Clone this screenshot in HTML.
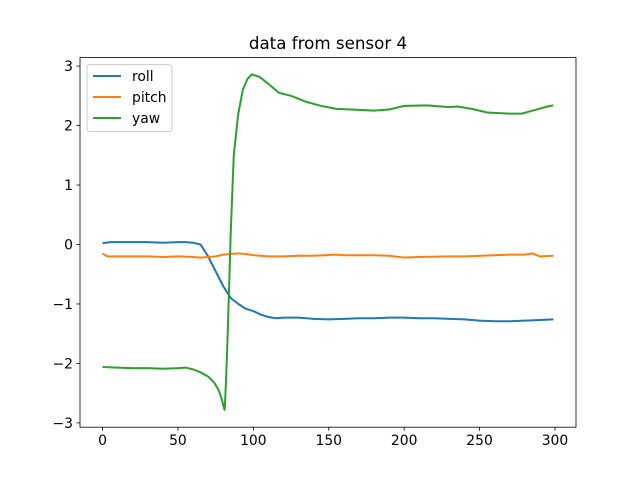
<!DOCTYPE html>
<html><head><meta charset="utf-8"><style>
body{margin:0;background:#fff}
svg text{font-family:"DejaVu Sans","Liberation Sans",sans-serif;fill:#000}
</style></head><body>
<svg id="chart" width="640" height="480" xmlns="http://www.w3.org/2000/svg">
<rect width="640" height="480" fill="#fff"/>
<text x="328" y="49" font-size="16.7" text-anchor="middle">data from sensor 4</text>
<g id="plot"></g>
<rect x="80" y="57.6" width="496" height="369.6" fill="none" stroke="#000" stroke-width="0.8"/>
<g id="ticks"></g>
<g>
<rect x="87" y="64.6" width="85" height="67" rx="3" fill="#fff" fill-opacity="0.8" stroke="#ccc"/>
<g><line x1="93" y1="76" x2="121" y2="76" stroke="#1f77b4" stroke-width="2"/><text x="132" y="81" font-size="13.9">roll</text></g>
<g><line x1="93" y1="97" x2="121" y2="97" stroke="#ff7f0e" stroke-width="2"/><text x="132" y="102" font-size="13.9">pitch</text></g>
<g><line x1="93" y1="118" x2="121" y2="118" stroke="#2ca02c" stroke-width="2"/><text x="132" y="123" font-size="13.9">yaw</text></g>
</g>
</svg>
<script>
const xTicks=[0,50,100,150,200,250,300];
const yTicks=[-3,-2,-1,0,1,2,3];
const rollX=[0,5,10,20,30,40,50,55,60,65,70,75,80,85,90,95,100,105,110,115,120,130,140,150,160,170,180,190,200,210,220,230,240,250,260,270,280,290,299];
const rollY=[0.02,0.04,0.04,0.04,0.04,0.03,0.04,0.04,0.03,0.0,-0.2,-0.45,-0.7,-0.9,-1.0,-1.08,-1.12,-1.18,-1.22,-1.24,-1.23,-1.23,-1.25,-1.26,-1.25,-1.24,-1.24,-1.23,-1.23,-1.24,-1.24,-1.25,-1.26,-1.28,-1.29,-1.29,-1.28,-1.27,-1.26];
const pitchX=[0,3,10,20,30,40,50,60,65,70,75,80,85,90,95,100,110,120,130,140,155,160,180,190,200,210,230,240,260,270,280,285,290,299];
const pitchY=[-0.15,-0.2,-0.2,-0.2,-0.2,-0.21,-0.2,-0.21,-0.22,-0.21,-0.2,-0.17,-0.16,-0.15,-0.16,-0.18,-0.2,-0.2,-0.19,-0.19,-0.17,-0.18,-0.18,-0.19,-0.22,-0.21,-0.2,-0.2,-0.18,-0.17,-0.17,-0.15,-0.2,-0.19];
const yawX=[0,10,20,30,40,50,55,60,65,70,74,77,79,81,82,83,85,87,90,93,96,99,104,110,117,125,135,145,155,165,180,190,200,215,230,235,245,255,270,278,285,295,299];
const yawY=[-2.06,-2.07,-2.08,-2.08,-2.09,-2.08,-2.07,-2.1,-2.15,-2.22,-2.32,-2.45,-2.6,-2.79,-2.2,-1.5,0.2,1.5,2.2,2.6,2.78,2.86,2.82,2.7,2.55,2.5,2.4,2.33,2.28,2.27,2.25,2.27,2.33,2.34,2.31,2.32,2.28,2.22,2.2,2.2,2.25,2.32,2.34];
const xMin=-14.95,xMax=313.95,yMin=-3.0725,yMax=3.1425;
const L=80,R=576,T=57.6,B=427.2;
function sx(v){return L+(v-xMin)/(xMax-xMin)*(R-L);}
function sy(v){return B-(v-yMin)/(yMax-yMin)*(B-T);}
const NS="http://www.w3.org/2000/svg";
const plot=document.getElementById('plot');
function series(xs,ys,color,name){
  const p=document.createElementNS(NS,'polyline');
  p.setAttribute('points',xs.map((x,i)=>sx(x).toFixed(2)+','+sy(ys[i]).toFixed(2)).join(' '));
  p.setAttribute('fill','none');p.setAttribute('stroke',color);p.setAttribute('stroke-width','2');
  
  
  plot.appendChild(p);
}
series(rollX,rollY,'#1f77b4','roll-line');
series(pitchX,pitchY,'#ff7f0e','pitch-line');
series(yawX,yawY,'#2ca02c','yaw-line');
const tg=document.getElementById('ticks');
xTicks.forEach(v=>{
  const l=document.createElementNS(NS,'line');
  l.setAttribute('x1',sx(v));l.setAttribute('x2',sx(v));l.setAttribute('y1',B);l.setAttribute('y2',B+3.5);l.setAttribute('stroke','#000');l.setAttribute('stroke-width','0.8');
  
  
  tg.appendChild(l);
  const t=document.createElementNS(NS,'text');
  t.setAttribute('x',sx(v));t.setAttribute('y',B+18);t.setAttribute('font-size','13.9');t.setAttribute('text-anchor','middle');t.textContent=v;
  
  
  tg.appendChild(t);
});
yTicks.forEach(v=>{
  const l=document.createElementNS(NS,'line');
  l.setAttribute('x1',L-3.5);l.setAttribute('x2',L);l.setAttribute('y1',sy(v));l.setAttribute('y2',sy(v));l.setAttribute('stroke','#000');l.setAttribute('stroke-width','0.8');
  
  
  tg.appendChild(l);
  const t=document.createElementNS(NS,'text');
  t.setAttribute('x',L-7);t.setAttribute('y',sy(v)+5);t.setAttribute('font-size','13.9');t.setAttribute('text-anchor','end');t.textContent=(v<0?'\u2212'+(-v):v);
  
  
  tg.appendChild(t);
});
</script>
</body></html>
